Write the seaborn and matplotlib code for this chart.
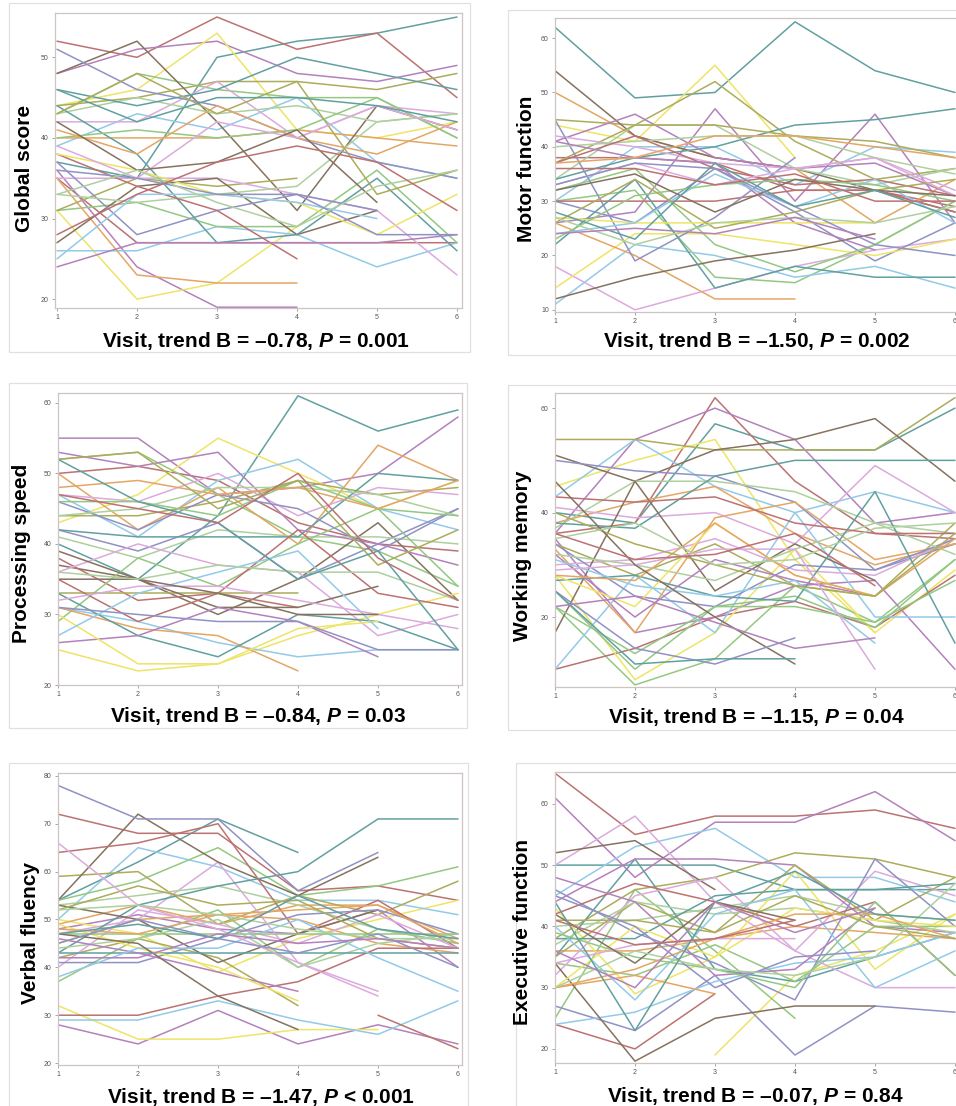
import numpy as np
import pandas as pd
import seaborn as sns
import matplotlib.pyplot as plt
from matplotlib.patches import Rectangle

visits = [1, 2, 3, 4, 5, 6]

global_score = [
    [37, 35, 50, 52, 53, 55], [52, 50, 55, 51, 53, 45], [48, 51, 52, 48, 47, 49],
    [44, 46, 53, 41, 40, 42], [39, 43, 41, 45, 37, 35], [43, 48, 46, 45, 45, 40],
    [40, 40, 40, 41, 40, 39], [44, 45, 47, 47, 46, 48], [42, 42, 47, 40, 44, 43],
    [48, 52, 42, 31, 44, 41], [51, 46, 44, 40, 37, 35], [43, 45, 43, 44, 42, 43],
    [46, 44, 46, 50, 48, 46], [35, 27, 27, 27, 27, 27], [36, 24, 19, 19, None, None],
    [31, 20, 22, 29, None, None], [26, 26, 29, 28, 24, 27], [31, 32, 29, 29, 36, 27],
    [35, 23, 22, 22, None, None], [31, 35, 34, 35, None, None], [35, 35, 35, 33, 31, 23],
    [27, 34, 35, 28, 31, None], [37, 28, 31, 33, 31, None], [33, 32, 33, 34, 42, 43],
    [44, 38, 27, 28, 35, 26], [38, 34, 31, 25, None, None], [24, 27, 27, 27, 27, 28],
    [38, 36, 33, 32, 28, 33], [25, 33, 33, 32, 30, None], [40, 41, 40, 41, 45, 40],
    [41, 38, 44, 40, 38, 42], [43, 48, 43, 47, 33, 36], [39, 35, 42, 40, 44, 41],
    [42, 36, 37, 41, 32, None], [36, 35, 33, 33, 28, 28], [33, 36, 32, 29, 34, 36],
    [46, 42, 45, 45, 44, 42], [28, 33, 37, 39, 37, 31],
]

motor_function = [
    [62, 49, 50, 63, 54, 50], [38, 38, 37, 32, 32, 29], [26, 28, 47, 30, 46, 26],
    [44, 41, 55, 38, None, None], [30, 40, 40, 33, 40, 39], [30, 32, 16, 15, 22, 30],
    [50, 42, 38, 36, 26, 34], [45, 44, 52, 41, 34, 36], [18, 10, 14, 18, 21, 23],
    [54, 42, 38, 36, 32, 28], [30, 26, 36, 28, 19, 26], [34, 44, 44, 36, 33, 36],
    [34, 38, 40, 44, 45, 47], [30, 30, 30, 32, 32, 28], [41, 46, 38, 36, 37, 31],
    [14, 24, 24, 22, 20, 23], [11, 22, 20, 16, 18, 14], [32, 36, 22, 17, 22, 30],
    [26, 20, 12, 12, None, None], [37, 44, 44, 42, 41, 38], [42, 40, 37, 36, 38, 32],
    [12, 16, 19, 21, 24, None], [45, 19, 27, 38, None, None], [40, 41, 42, 42, 38, 35],
    [22, 34, 14, 18, 16, 16], [37, 42, 36, 33, 34, 31], [41, 38, 37, 26, 21, None],
    [27, 26, 26, 26, 26, None], [24, 26, 35, 29, 34, 26], [23, 31, 33, 34, 33, 30],
    [37, 38, 42, 42, 40, 38], [26, 34, 25, 28, 32, 34], [33, 37, 33, 36, 38, 31],
    [32, 35, 28, 34, 32, 31], [33, 37, 36, 29, 22, 20], [27, 22, 26, 27, 26, 29],
    [28, 23, 37, 29, 32, 27], [36, 36, 33, 35, 30, 30], [24, 25, 24, 27, 23, None],
]

processing_speed = [
    [40, 35, 44, 61, 56, 59], [50, 51, 49, 43, 40, 39], [55, 55, 47, 48, 50, 58],
    [43, 47, 55, 50, 45, 49], [47, 41, 49, 52, 45, 42], [52, 53, 47, 41, 39, 34],
    [50, 42, 48, 40, 54, 49], [44, 44, 46, 49, 47, 48], [47, 46, 50, 44, 48, 47],
    [37, 35, 30, 35, 43, 32], [42, 39, 43, 35, 40, 45], [41, 38, 42, 41, 41, 40],
    [42, 41, 41, 41, 50, 49], [38, 32, 33, 31, None, None], [53, 51, 53, 42, 40, 37],
    [25, 22, 23, 27, 30, 33], [31, 29, 26, 24, 25, 25], [29, 38, 34, 40, 45, 34],
    [31, 28, 27, 22, None, None], [33, 33, 33, 33, None, None], [36, 40, 37, 36, 27, 30],
    [39, 35, 31, 31, 34, None], [46, 42, 47, 45, 39, 45], [44, 45, 48, 48, 47, 44],
    [33, 27, 24, 30, 29, 25], [35, 29, 33, 42, 33, 31], [26, 27, 31, 29, 24, None],
    [30, 23, 23, 28, 29, None], [27, 33, 36, 39, 28, None], [46, 46, 44, 49, 45, 44],
    [48, 49, 47, 48, 45, 49], [52, 53, 45, 49, 37, 42], [32, 34, 34, 32, 30, 28],
    [35, 35, 33, 30, 30, None], [31, 30, 29, 29, 25, 25], [36, 35, 37, 36, 36, 32],
    [52, 46, 43, 35, 39, 25], [47, 45, 43, 50, 38, 32],
]

working_memory = [
    [40, 38, 57, 52, 52, 60], [36, 38, 62, 46, 36, 35], [36, 54, 60, 54, 38, 40],
    [45, 50, 54, 31, 17, 29], [43, 54, 45, 40, 44, 40], [22, 7, 12, 26, 19, 31],
    [38, 42, 45, 36, 30, 34], [54, 54, 52, 52, 52, 62], [41, 39, 40, 34, 49, 40],
    [51, 46, 52, 54, 58, 46], [50, 48, 47, 42, 29, 34], [37, 46, 46, 44, 38, 36],
    [38, 37, 47, 50, 50, 50], [10, 14, 20, 23, 18, 28], [35, 17, 20, 26, 27, 10],
    [28, 8, 17, 33, 17, None], [10, 28, 17, 40, 20, 20], [25, 10, 22, 24, 18, 31],
    [33, 17, 39, 42, 31, 34], [34, 28, 34, 26, 24, 38], [30, 31, 35, 29, 28, 35],
    [17, 46, 25, 34, 27, None], [34, 24, 22, 30, 29, 35], [32, 30, 27, 33, 38, 32],
    [27, 28, 24, 23, 44, 15], [43, 42, 43, 38, 36, 36], [32, 20, 31, 27, 24, None],
    [28, 22, 38, 28, 24, None], [31, 26, 24, 27, 15, None], [22, 13, 22, 22, 19, 27],
    [28, 27, 38, 28, 24, 35], [40, 34, 30, 26, 24, 36], [29, 30, 33, 33, 10, None],
    [46, 30, 20, 11, None, None], [25, 14, 11, 16, None, None], [35, 38, 30, 31, 37, 38],
    [25, 11, 12, 12, None, None], [36, 31, 32, 36, 26, None], [22, 24, 19, 14, 16, None],
]

verbal_fluency = [
    [54, 62, 71, 64, None, None], [72, 68, 68, 56, 57, 54], [48, 51, 48, 47, 52, 40],
    [50, 47, 39, 46, 50, 54], [50, 65, 61, 54, 54, 51], [54, 58, 65, 55, 57, 61],
    [49, 53, 49, 53, 53, 46], [59, 60, 49, 55, 51, 58], [47, 50, 62, 41, 35, None],
    [54, 72, 62, 55, 63, None], [78, 71, 71, 56, 64, None], [53, 55, 57, 53, 48, 45],
    [43, 53, 57, 60, 71, 71], [64, 66, 70, 47, 54, 44], [28, 24, 31, 24, 28, 24],
    [32, 25, 25, 27, 27, None], [29, 29, 33, 29, 26, 33], [37, 46, 52, 40, 48, 45],
    [45, 50, 51, 50, 45, 43], [42, 46, 42, 32, None, None], [40, 52, 49, 45, 51, 44],
    [53, 50, 41, 47, 52, None], [41, 41, 46, 51, 52, 47], [44, 46, 50, 40, 45, 47],
    [43, 43, 43, 43, 43, 43], [30, 30, 34, 37, 44, 44], [46, 43, 39, 35, None, None],
    [49, 44, 40, 33, None, None], [38, 44, 44, 50, 42, 35], [47, 47, 47, 47, 47, 47],
    [48, 47, 51, 52, 53, 45], [52, 57, 53, 54, 46, 44], [66, 53, 48, 41, 34, None],
    [47, 45, 34, 27, None, None], [45, 50, 46, 43, 47, 40], [52, 53, 51, 48, 46, 46],
    [47, 49, 46, 55, 48, 46], [None, None, None, None, 30, 23], [42, 42, 47, 45, 46, 44],
]

executive_function = [
    [50, 50, 50, 46, 46, 46], [65, 55, 58, 58, 59, 56], [61, 48, 57, 57, 62, 54],
    [None, None, 19, 32, 36, 42], [45, 53, 56, 48, 48, 44], [25, 46, 36, 25, None, None],
    [36, 36, 38, 40, 39, 38], [38, 46, 48, 52, 51, 48], [50, 58, 44, 36, 49, 45],
    [52, 54, 46, None, None, None], [27, 23, 32, 19, 27, 26], [40, 41, 43, 45, 42, 41],
    [35, 51, 33, 31, 35, 39], [24, 20, 29, None, None, None], [44, 51, 51, 50, 40, 39],
    [43, 29, 35, 49, 33, 42], [24, 26, 31, 34, 35, 39], [34, 32, 37, 31, 40, 40],
    [30, 32, 29, None, None, None], [35, 44, 39, 50, 41, 48], [32, 45, 48, 36, 30, 30],
    [34, 18, 25, 27, 27, None], [46, 39, 34, 28, 51, 40], [37, 44, 42, 43, 41, 39],
    [38, 38, 45, 46, 46, 47], [42, 47, 44, 40, 44, 32], [48, 44, 32, 33, 43, None],
    [30, 40, 35, 43, 41, 40], [40, 28, 42, 46, 30, 36], [39, 35, 33, 30, 44, 32],
    [30, 33, 38, 42, 42, 38], [41, 41, 39, 45, 40, 38], [34, 37, 38, 38, None, None],
    [42, 34, 44, 41, None, None], [45, 40, 30, 35, 36, None], [30, 36, 33, 32, 35, 47],
    [44, 23, 44, 49, 42, 41], [41, 37, 38, 41, None, None], [36, 30, 44, 39, 43, None],
]

y_labels = ["Global score", "Motor function", "Processing speed",
            "Working memory", "Verbal fluency", "Executive function"]
x_labels = [
    r"Visit, trend B = –0.78, $P$ = 0.001",
    r"Visit, trend B = –1.50, $P$ = 0.002",
    r"Visit, trend B = –0.84, $P$ = 0.03",
    r"Visit, trend B = –1.15, $P$ = 0.04",
    r"Visit, trend B = –1.47, $P$ < 0.001",
    r"Visit, trend B = –0.07, $P$ = 0.84",
]

sns.set_theme(style="white")
plt.rcParams['font.family'] = ['Liberation Sans', 'DejaVu Sans']
plt.rcParams['text.color'] = 'black'
plt.rcParams['mathtext.fontset'] = 'custom'
plt.rcParams['mathtext.it'] = 'Liberation Sans:italic:bold'
plt.rcParams['mathtext.rm'] = 'Liberation Sans:bold'
plt.rcParams['mathtext.bf'] = 'Liberation Sans:bold'

colors = ["#62a0a0", "#bc7272", "#b481bc", "#eee466", "#92cae8", "#94c882",
          "#e4a664", "#acac5c", "#dcaadc", "#86725f", "#9092c4", "#aed09e"]

W, H = 956, 1106
fig = plt.figure(figsize=(W / 100, H / 100), dpi=100)

# pixel layout: axes box (l, t, r, b), y-limits, ticks, outer frame, label spots
layout = [
    dict(box=(55, 13, 462, 308), x1=57, ylim=(18.9, 55.5), yt=[20, 30, 40, 50],
         frame=(9, 3, 470, 352), ylab=(25, 168), xlab=(256, 347)),
    dict(box=(555, 18, 962, 312), x1=555, ylim=(9.6, 63.7), yt=[10, 20, 30, 40, 50, 60],
         frame=(508, 10, 990, 355), ylab=(526, 169), xlab=(757, 347)),
    dict(box=(58, 393, 462, 685), x1=58, ylim=(20, 61.4), yt=[20, 30, 40, 50, 60],
         frame=(9, 383, 467, 728), ylab=(22, 553), xlab=(258, 722)),
    dict(box=(555, 393, 962, 687), x1=555, ylim=(6.6, 62.9), yt=[20, 40, 60],
         frame=(508, 385, 990, 730), ylab=(523, 556), xlab=(756, 723)),
    dict(box=(58, 773, 462, 1065), x1=58, ylim=(19.6, 80.6), yt=[20, 30, 40, 50, 60, 70, 80],
         frame=(9, 763, 468, 1130), ylab=(30, 933), xlab=(261, 1103)),
    dict(box=(555, 772, 962, 1063), x1=555, ylim=(17.7, 65.2), yt=[20, 30, 40, 50, 60],
         frame=(516, 763, 990, 1130), ylab=(523, 932), xlab=(755, 1102)),
]

datasets = [global_score, motor_function, processing_speed,
            working_memory, verbal_fluency, executive_function]

for rows, lay, ylab, xlab in zip(datasets, layout, y_labels, x_labels):
    l, t, r, b = lay["box"]
    ax = fig.add_axes([l / W, 1 - b / H, (r - l) / W, (b - t) / H])

    recs = []
    for i, row in enumerate(rows):
        for v, y in zip(visits, row):
            recs.append((f"s{i:02d}", v, np.nan if y is None else y))
    df = pd.DataFrame(recs, columns=["subject", "visit", "score"])
    pal = [colors[i % len(colors)] for i in range(len(rows))]
    sns.lineplot(data=df, x="visit", y="score", hue="subject", palette=pal,
                 legend=False, errorbar=None, lw=1.1, ax=ax)

    ax.set_xlim(1 + (l - lay["x1"]) / 80, 1 + (r - lay["x1"]) / 80)
    ax.set_ylim(*lay["ylim"])
    ax.set_xticks(visits)
    ax.set_yticks(lay["yt"])
    ax.set_xlabel("")
    ax.set_ylabel("")
    ax.tick_params(bottom=True, left=True, length=2.5, width=0.6, color="#999999",
                   labelsize=5, labelcolor="#555555", pad=2)
    for s in ax.spines.values():
        s.set_color("#cfc4c4")
        s.set_linewidth(0.9)

    fl, ft, fr, fb = lay["frame"]
    fig.add_artist(Rectangle((fl / W, 1 - fb / H), (fr - fl) / W, (fb - ft) / H,
                             transform=fig.transFigure, fill=False,
                             ec="#e0e0e0", lw=0.9))

    fig.text(lay["ylab"][0] / W, 1 - lay["ylab"][1] / H, ylab, rotation=90,
             ha="center", va="center", fontsize=15, fontweight="bold", color="black")
    fig.text(lay["xlab"][0] / W, 1 - lay["xlab"][1] / H, xlab,
             ha="center", va="baseline", fontsize=15, fontweight="bold", color="black")

fig.savefig("out.png", dpi=100)
